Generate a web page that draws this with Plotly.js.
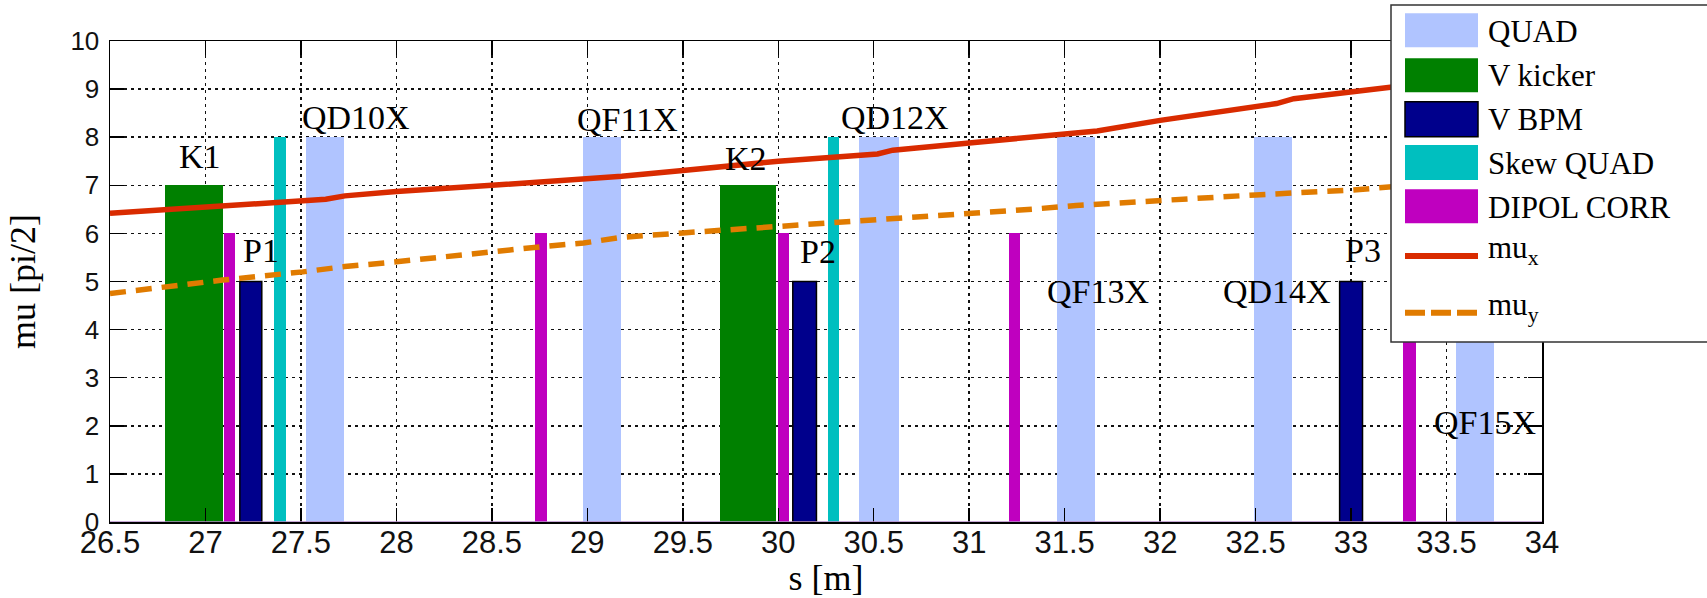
<!DOCTYPE html>
<html>
<head>
<meta charset="utf-8">
<script src="https://cdn.plot.ly/plotly-3.0.1.min.js"></script>
<style>html,body{margin:0;padding:0;background:#fff;}#chart{width:1707px;height:598px;}</style>
</head>
<body>
<div id="chart"></div>
<script>
// ---------- data ----------
const quadStart = [27.527, 28.975, 30.425, 31.46, 32.49, 33.55];
const quadEnd   = [27.728, 29.177, 30.63, 31.66, 32.69, 33.75];
const quadHeight = [8, 8, 8, 8, 8, 8];

const kickStart = [26.79, 29.695];
const kickEnd   = [27.09, 29.99];
const kickHeight = [7, 7];

const bpmStart = [27.18, 30.076, 32.94];
const bpmEnd   = [27.295, 30.20, 33.06];
const bpmHeight = [5, 5, 5];

const skewStart = [27.357, 30.26];
const skewEnd   = [27.42, 30.317];
const skewHeight = [8, 8];

const dipStart = [27.097, 28.726, 30.0, 31.21, 33.27];
const dipEnd   = [27.157, 28.79, 30.057, 31.265, 33.34];
const dipHeight = [6, 6, 6, 6, 6];

const muXs = [26.5, 27.09, 27.51, 27.63, 27.73, 28.0, 28.5, 28.8, 29.0, 29.18, 29.5, 30.0, 30.52, 30.6, 31.0, 31.25, 31.51, 31.67, 32.0, 32.5, 32.61, 32.7, 33.0, 33.25];
const muX  = [6.42, 6.56, 6.66, 6.71, 6.78, 6.87, 7.0, 7.08, 7.14, 7.19, 7.31, 7.5, 7.65, 7.73, 7.88, 7.97, 8.07, 8.13, 8.35, 8.62, 8.70, 8.80, 8.94, 9.06];

const muYs = [26.5, 27.09, 27.51, 27.73, 28.0, 28.5, 28.8, 28.98, 29.18, 29.5, 30.0, 30.55, 31.0, 31.35, 31.56, 32.0, 32.5, 33.0, 33.25];
const muY  = [4.75, 5.03, 5.2, 5.31, 5.41, 5.63, 5.74, 5.8, 5.92, 6.01, 6.14, 6.3, 6.42, 6.51, 6.58, 6.69, 6.8, 6.9, 6.98];

const labelText = ['K1', 'P1', 'QD10X', 'QF11X', 'K2', 'P2', 'QD12X', 'QF13X', 'QD14X', 'P3', 'QF15X'];
const labelS    = [26.97, 27.29, 27.79, 29.21, 29.83, 30.21, 30.61, 31.675, 32.61, 33.06, 33.70];
const labelMu   = [7.6, 5.65, 8.41, 8.36, 7.56, 5.62, 8.42, 4.79, 4.79, 5.65, 2.07];

const xTicks = [26.5, 27, 27.5, 28, 28.5, 29, 29.5, 30, 30.5, 31, 31.5, 32, 32.5, 33, 33.5, 34];
const yTicks = [0, 1, 2, 3, 4, 5, 6, 7, 8, 9, 10];

// ---------- styles ----------
const SERIF = '"Liberation Serif", "Times New Roman", serif';
const SANS = '"Liberation Sans", Arial, sans-serif';
const C_QUAD = '#b0c4ff', C_KICK = '#008000', C_BPM = '#00008c', C_SKEW = '#00bfbf', C_DIP = '#bf00bf';
const C_MUX = '#d92b00', C_MUY = '#e07b00';

function barTrace(name, s0, s1, h, color, lineColor, lineWidth) {
  return {
    type: 'bar', name: name,
    x: s0.map((a, i) => (a + s1[i]) / 2),
    width: s0.map((a, i) => s1[i] - a),
    y: h, base: 0,
    marker: {color: color, line: {color: lineColor || color, width: lineWidth || 0}},
    showlegend: false, hoverinfo: 'x+y'
  };
}

const traces = [
  barTrace('QUAD', quadStart, quadEnd, quadHeight, C_QUAD),
  barTrace('V kicker', kickStart, kickEnd, kickHeight, C_KICK),
  barTrace('V BPM', bpmStart, bpmEnd, bpmHeight, C_BPM, '#000000', 1.5),
  barTrace('Skew QUAD', skewStart, skewEnd, skewHeight, C_SKEW),
  barTrace('DIPOL CORR', dipStart, dipEnd, dipHeight, C_DIP),
  {type: 'scatter', mode: 'lines', name: 'mu<sub>x</sub>', x: muXs, y: muX,
   line: {color: C_MUX, width: 5.5}, showlegend: false},
  {type: 'scatter', mode: 'lines', name: 'mu<sub>y</sub>', x: muYs, y: muY,
   line: {color: C_MUY, width: 5.5, dash: '16px,10px'}, showlegend: false}
];

// ---------- layout helpers (pixel -> paper) ----------
const L = 110, R = 1542, T = 41, B = 522;
const px = x => (x - L) / (R - L);
const py = y => (B - y) / (B - T);

const annotations = labelText.map((t, i) => ({
  x: labelS[i], y: labelMu[i], xref: 'x', yref: 'y', text: t, showarrow: false,
  xanchor: 'center', yanchor: 'middle', font: {family: SERIF, size: 34, color: '#000'}
}));

const shapes = [
  {type: 'line', xref: 'paper', yref: 'y', x0: 0, x1: 1, y0: 0, y1: 0,
   line: {color: '#b48cc8', width: 1.5}, layer: 'above'},
  // legend box
  {type: 'rect', xref: 'paper', yref: 'paper', x0: px(1391), x1: px(1712), y0: py(342), y1: py(5),
   fillcolor: '#ffffff', line: {color: '#333333', width: 1.5}, layer: 'above'}
];

// legend entries built from traces
const swX0 = px(1405), swX1 = px(1478), txX = px(1486);
const swRows = [[13.3, 47.3], [58.3, 92.3], [101.7, 136.7], [145, 180], [189.3, 223.3]];
const txRows = [31, 76, 120, 163, 207, 250, 307];
const lineRows = [256, 312.7];
traces.forEach((tr, i) => {
  if (tr.type === 'bar') {
    const r = swRows[i];
    shapes.push({type: 'rect', xref: 'paper', yref: 'paper', x0: swX0, x1: swX1, y0: py(r[1]), y1: py(r[0]),
      fillcolor: tr.marker.color, line: {color: tr.marker.line.width ? '#000' : tr.marker.color, width: tr.marker.line.width ? 1.5 : 0}, layer: 'above'});
  } else {
    const yy = py(lineRows[i - 5]);
    shapes.push({type: 'line', xref: 'paper', yref: 'paper', x0: swX0, x1: swX1, y0: yy, y1: yy,
      line: {color: tr.line.color, width: 6, dash: tr.line.dash ? '20px,6px' : 'solid'}, layer: 'above'});
  }
  annotations.push({x: txX, y: py(txRows[i]), xref: 'paper', yref: 'paper', text: tr.name, showarrow: false,
    xanchor: 'left', yanchor: 'middle', font: {family: SERIF, size: 31, color: '#000'}});
});

const gridDash = '3px,4px';
const layout = {
  width: 1707, height: 598,
  margin: {l: L, r: 1707 - R, t: T, b: 598 - B, pad: 0},
  paper_bgcolor: '#fff', plot_bgcolor: '#fff',
  barmode: 'overlay', bargap: 0,
  showlegend: false,
  xaxis: {
    range: [26.5, 34], tickvals: xTicks, ticktext: xTicks.map(String),
    ticks: 'inside', ticklen: 14, tickwidth: 1.5, tickcolor: '#000',
    showline: true, linecolor: '#000', linewidth: 1.5, mirror: 'ticks',
    showgrid: true, gridcolor: '#111', gridwidth: 1.5, griddash: gridDash,
    zeroline: false, ticklabelstandoff: -8,
    tickfont: {family: SANS, size: 31, color: '#111'},
    title: {text: 's [m]', font: {family: SERIF, size: 36, color: '#000'}, standoff: 12}
  },
  yaxis: {
    range: [0, 10], tickvals: yTicks, ticktext: yTicks.map(String),
    ticks: 'inside', ticklen: 14, tickwidth: 1.5, tickcolor: '#000',
    showline: true, linecolor: '#000', linewidth: 1.5, mirror: 'ticks',
    showgrid: true, gridcolor: '#111', gridwidth: 1.5, griddash: gridDash,
    zeroline: false, ticklabelstandoff: 4,
    tickfont: {family: SANS, size: 26, color: '#111'},
    title: {text: 'mu [pi/2]', font: {family: SERIF, size: 36, color: '#000'}, standoff: 24}
  },
  annotations: annotations,
  shapes: shapes
};

Plotly.newPlot('chart', traces, layout, {displayModeBar: false, staticPlot: true});
</script>
</body>
</html>
